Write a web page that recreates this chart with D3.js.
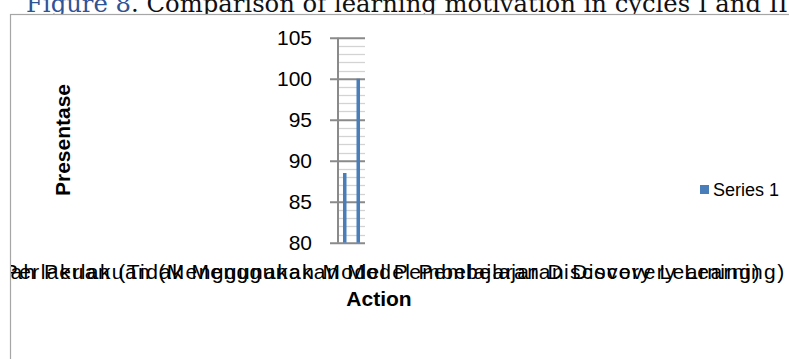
<!DOCTYPE html>
<html>
<head>
<meta charset="utf-8">
<script src="https://cdn.jsdelivr.net/npm/d3@7"></script>
<style>
  html, body { margin: 0; padding: 0; background: #fff; }
  svg { display: block; }
</style>
</head>
<body>
<svg id="chart" width="789" height="359"></svg>
<script>
// Chart data
const categories = [
  "Sebelum Perlakuan (Tidak Menggunakan Model Pembelajaran Discovery Learning)",
  "Setelah Perlakuan (Menggunakan Model Pembelajaran Discovery Learning)"
];
const seriesName = "Series 1";
const seriesValues = [88.5, 100];
const yTicks = [80, 85, 90, 95, 100, 105];
const titleNumber = "Figure 8";
const titleText = ". Comparison of learning motivation in cycles I and II";
const yTitle = "Presentase";
const xTitle = "Action";

const W = 789, H = 359;
const svg = d3.select("#chart");

// Caption line above the chart frame (partially cut off by the top edge)
const cap = svg.append("text")
  .attr("x", 26).attr("y", 12)
  .attr("font-family", "DejaVu Serif, serif")
  .attr("font-size", 24.3);
cap.append("tspan").attr("fill", "#2f5496").text(titleNumber);
cap.append("tspan").attr("fill", "#111").text(titleText);

// Chart frame
const frameX = 10, frameY = 14;
svg.append("rect")
  .attr("x", frameX + 0.5).attr("y", frameY + 0.5)
  .attr("width", W + 10).attr("height", H + 10)
  .attr("fill", "#fff").attr("stroke", "#a6a6a6").attr("stroke-width", 1.2);

svg.append("clipPath").attr("id", "frameClip")
  .append("rect").attr("x", frameX + 1).attr("y", frameY + 1)
  .attr("width", W).attr("height", H);

const g = svg.append("g").attr("clip-path", "url(#frameClip)");

// Plot area
const plot = { left: 338, right: 365, top: 37.7, bottom: 242.7 };

const y = d3.scaleLinear().domain([80, 105]).range([plot.bottom, plot.top]);
const x = d3.scaleBand().domain(categories)
  .range([plot.left, plot.right])
  .paddingInner(0.74).paddingOuter(0.37);

// Minor gridlines (every unit)
const minor = d3.range(81, 105).filter(v => v % 5 !== 0);
g.append("g").selectAll("line").data(minor).join("line")
  .attr("x1", plot.left).attr("x2", plot.right)
  .attr("y1", d => Math.round(y(d)) + 0.5).attr("y2", d => Math.round(y(d)) + 0.5)
  .attr("stroke", "#d3d3d3").attr("stroke-width", 1.3);

// Major gridlines with outward tick marks, labels via d3 axis
const yAxis = d3.axisLeft(y).tickValues(yTicks)
  .tickSize(-(plot.right - plot.left)).tickPadding(0).tickFormat(d3.format("d"));
const ax = g.append("g").attr("transform", `translate(${plot.left},0)`).call(yAxis);
ax.select(".domain").remove();
ax.selectAll(".tick line")
  .attr("x1", -8).attr("x2", plot.right - plot.left)
  .attr("stroke", "#8a8a8a").attr("stroke-width", 2);
ax.selectAll(".tick text")
  .attr("x", -26)
  .attr("font-family", "Liberation Sans, Arial, sans-serif")
  .attr("font-size", 21).attr("fill", "#000");

// Vertical axis line
g.append("line")
  .attr("x1", plot.left).attr("x2", plot.left)
  .attr("y1", plot.top).attr("y2", plot.bottom)
  .attr("stroke", "#8a8a8a").attr("stroke-width", 2);

// Bars
g.append("g").selectAll("rect").data(seriesValues).join("rect")
  .attr("x", (d, i) => x(categories[i]))
  .attr("width", x.bandwidth())
  .attr("y", d => y(d))
  .attr("height", d => y(80) - y(d))
  .attr("fill", "#4a7ebb");

// Category labels (overlapping, centred under each band)
g.append("g").selectAll("text").data(categories).join("text")
  .attr("x", d => x(d) + x.bandwidth() / 2)
  .attr("y", 279)
  .attr("text-anchor", "middle")
  .attr("font-family", "Liberation Sans, Arial, sans-serif")
  .attr("font-size", 21).attr("letter-spacing", 1.4).attr("fill", "#000")
  .text(d => d);

// Axis titles
g.append("text")
  .attr("transform", "translate(70,140) rotate(-90)")
  .attr("text-anchor", "middle")
  .attr("font-family", "Liberation Sans, Arial, sans-serif")
  .attr("font-weight", "bold").attr("font-size", 21)
  .text(yTitle);

g.append("text")
  .attr("x", 379).attr("y", 306)
  .attr("text-anchor", "middle")
  .attr("font-family", "Liberation Sans, Arial, sans-serif")
  .attr("font-weight", "bold").attr("font-size", 21)
  .text(xTitle);

// Legend
const lg = g.append("g").attr("transform", "translate(700,185)");
lg.append("rect").attr("width", 9).attr("height", 9).attr("fill", "#4a7ebb");
lg.append("text").attr("x", 13).attr("y", 11)
  .attr("font-family", "Liberation Sans, Arial, sans-serif")
  .attr("font-size", 18).text(seriesName);
</script>
</body>
</html>
